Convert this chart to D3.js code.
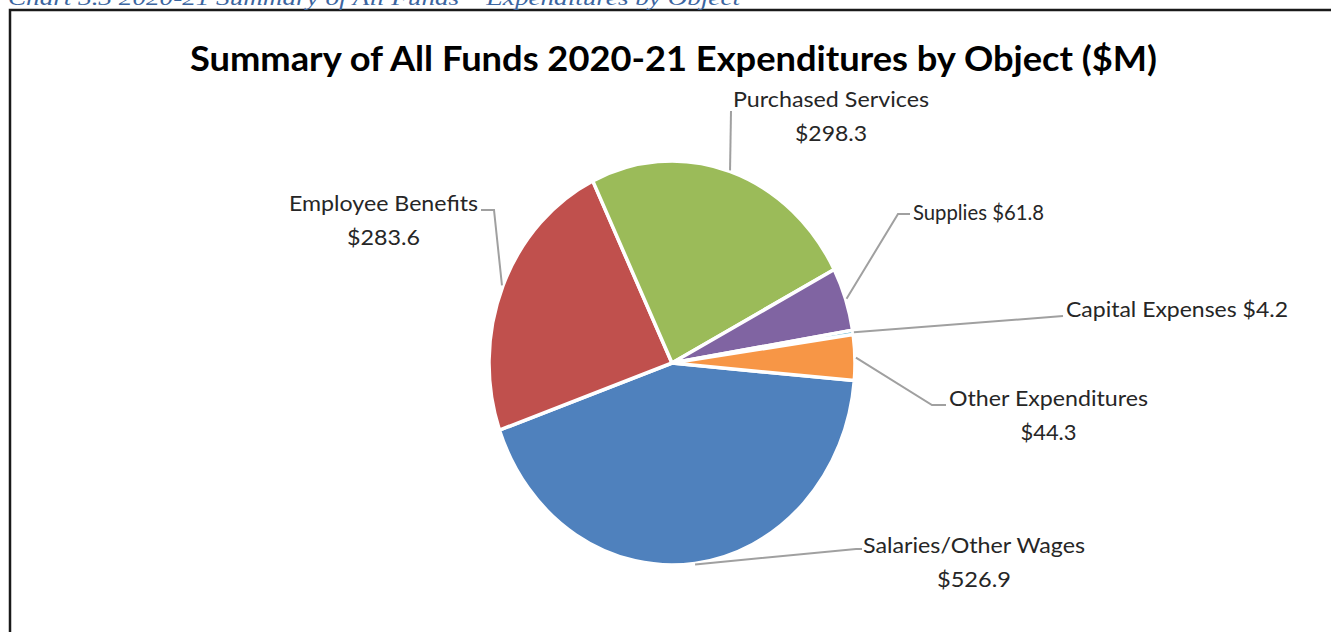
<!DOCTYPE html>
<html>
<head>
<meta charset="utf-8">
<script src="https://cdn.jsdelivr.net/npm/d3@7"></script>
<style>
  html, body { margin: 0; padding: 0; background: #fff; overflow: hidden; }
  svg { display: block; }
</style>
</head>
<body>
<svg id="chart" width="1331" height="632"></svg>
<script>
// Expenditure categories, in slice order (clockwise)
const categories = [
  "Salaries/Other Wages",
  "Employee Benefits",
  "Purchased Services",
  "Supplies",
  "Capital Expenses",
  "Other Expenditures"
];
// Amounts in $ millions
const values = [526.9, 283.6, 298.3, 61.8, 4.2, 44.3];
const sliceColors = ["#4f81bd", "#c0504d", "#9bbb59", "#8064a2", "#4bacc6", "#f79646"];

const captionText = "Chart 3.3 2020-21 Summary of All Funds \u2013 Expenditures by Object";
const titleText = "Summary of All Funds 2020-21 Expenditures by Object ($M)";

// Label placement: text anchor point, baselines, whether the value goes on a second line,
// and the elbow points of each leader line (from the label toward the slice).
const labelLayout = {
  "Salaries/Other Wages": { x: 974, y: 553, anchor: "middle", twoLine: true, w1: 222, w2: 74, leader: [[862, 549], [856, 549]] },
  "Employee Benefits":    { x: 383.5, y: 211, anchor: "middle", twoLine: true, w1: 189, w2: 73, leader: [[481, 210], [494, 210]] },
  "Purchased Services":   { x: 831, y: 107, anchor: "middle", twoLine: true, w1: 196, w2: 72, leader: [[731, 111]] },
  "Supplies":             { x: 913, y: 220, anchor: "start", twoLine: false, w1: 131, leader: [[910, 214], [898, 214]] },
  "Capital Expenses":     { x: 1066, y: 317, anchor: "start", twoLine: false, w1: 222, leader: [[1063, 316]] },
  "Other Expenditures":   { x: 1048.5, y: 406, anchor: "middle", twoLine: true, w1: 199, w2: 56, leader: [[946, 405], [932, 405]] }
};

const svg = d3.select("#chart");
const fmt = v => "$" + d3.format(".1f")(v);

// Frame around the chart area
svg.append("path")
  .attr("d", "M10,650 V10 H1345")
  .attr("fill", "none")
  .attr("stroke", "#1a1a1a")
  .attr("stroke-width", 2.5);

// Document caption above the frame (partly hidden by the page edge)
svg.append("text")
  .attr("x", 8).attr("y", 5)
  .attr("font-family", "'Liberation Serif', 'DejaVu Serif', serif")
  .attr("font-style", "italic")
  .attr("font-size", 22)
  .attr("fill", "#3b65a0")
  .attr("textLength", 732)
  .attr("lengthAdjust", "spacingAndGlyphs")
  .text(captionText);

// Chart title
svg.append("text")
  .attr("x", 190).attr("y", 71)
  .attr("font-family", "Lato, 'Open Sans', sans-serif")
  .attr("font-weight", "bold")
  .attr("font-size", 35)
  .attr("fill", "#000")
  .attr("textLength", 967)
  .attr("lengthAdjust", "spacingAndGlyphs")
  .text(titleText);

// Pie geometry (slightly taller than wide)
const cx = 672, cy = 363, rx = 183, ry = 202;
const startDeg = 95;
const pie = d3.pie()
  .sort(null)
  .value(d => d.value)
  .startAngle(startDeg * Math.PI / 180)
  .endAngle((startDeg + 360) * Math.PI / 180);

const data = categories.map((c, i) => ({ name: c, value: values[i], color: sliceColors[i] }));
const arcs = pie(data);

const arc = d3.arc().innerRadius(0).outerRadius(rx);

const pieG = svg.append("g")
  .attr("transform", `translate(${cx},${cy}) scale(1,${ry / rx})`);

pieG.selectAll("path.slice")
  .data(arcs)
  .join("path")
  .attr("class", "slice")
  .attr("d", arc)
  .attr("fill", d => d.data.color)
  .attr("stroke", "#fff")
  .attr("stroke-width", 3.5)
  .attr("stroke-linejoin", "round")
  .attr("vector-effect", "non-scaling-stroke");

// Point on the pie rim at a slice's middle angle
function rimPoint(d) {
  const a = (d.startAngle + d.endAngle) / 2;
  return [cx + (rx + 1) * Math.sin(a), cy - (ry + 1) * Math.cos(a)];
}

// Leader lines
const line = d3.line();
svg.selectAll("path.leader")
  .data(arcs)
  .join("path")
  .attr("class", "leader")
  .attr("d", d => {
    const L = labelLayout[d.data.name];
    return line([...L.leader, rimPoint(d)]);
  })
  .attr("fill", "none")
  .attr("stroke", "#a0a0a0")
  .attr("stroke-width", 2);

// Data labels
const labels = svg.selectAll("g.label")
  .data(arcs)
  .join("g")
  .attr("class", "label")
  .attr("font-family", "Lato, 'Open Sans', sans-serif")
  .attr("font-size", 22)
  .attr("fill", "#262626");

labels.each(function (d) {
  const L = labelLayout[d.data.name];
  const g = d3.select(this);
  if (L.twoLine) {
    g.append("text")
      .attr("x", L.x).attr("y", L.y)
      .attr("text-anchor", L.anchor)
      .attr("textLength", L.w1).attr("lengthAdjust", "spacingAndGlyphs")
      .text(d.data.name);
    g.append("text")
      .attr("x", L.x).attr("y", L.y + 34)
      .attr("text-anchor", L.anchor)
      .attr("textLength", L.w2).attr("lengthAdjust", "spacingAndGlyphs")
      .text(fmt(d.data.value));
  } else {
    g.append("text")
      .attr("x", L.x).attr("y", L.y)
      .attr("text-anchor", L.anchor)
      .attr("textLength", L.w1).attr("lengthAdjust", "spacingAndGlyphs")
      .text(d.data.name + " " + fmt(d.data.value));
  }
});
</script>
</body>
</html>
